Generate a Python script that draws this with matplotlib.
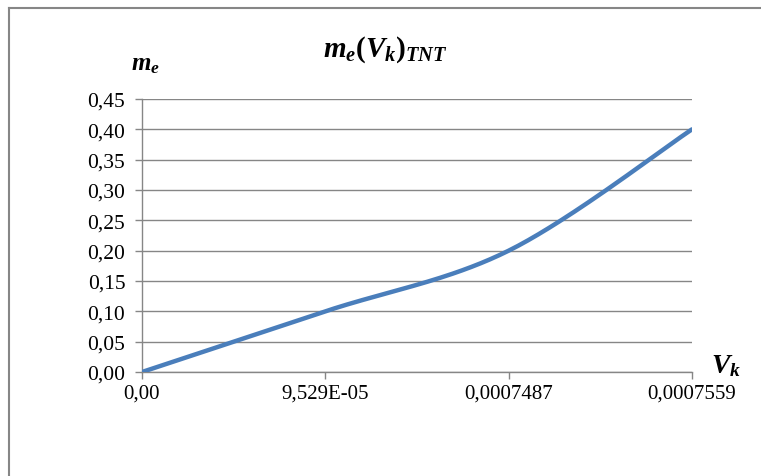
import numpy as np
import matplotlib.pyplot as plt

# chart data (category axis, Excel style)
categories = ["0,00", "9,529E-05", "0,0007487", "0,0007559"]
m_e = [0.00, 0.10, 0.20, 0.40]
y_ticks = [0.00, 0.05, 0.10, 0.15, 0.20, 0.25, 0.30, 0.35, 0.40, 0.45]


def excel_smooth(x, y, n=60):
    # cubic bezier through points, like Excel's "smoothed line"
    x = np.asarray(x, float)
    y = np.asarray(y, float)
    px, py = [], []
    for i in range(len(x) - 1):
        x0, y0 = (x[i - 1], y[i - 1]) if i > 0 else (x[i], y[i])
        x3, y3 = (x[i + 2], y[i + 2]) if i + 2 < len(x) else (x[i + 1], y[i + 1])
        c1x = x[i] + (x[i + 1] - x0) / 6
        c1y = y[i] + (y[i + 1] - y0) / 6
        c2x = x[i + 1] - (x3 - x[i]) / 6
        c2y = y[i + 1] - (y3 - y[i]) / 6
        t = np.linspace(0, 1, n)
        a, b, c, d = (1 - t) ** 3, 3 * (1 - t) ** 2 * t, 3 * (1 - t) * t ** 2, t ** 3
        px.extend(a * x[i] + b * c1x + c * c2x + d * x[i + 1])
        py.extend(a * y[i] + b * c1y + c * c2y + d * y[i + 1])
    return np.array(px), np.array(py)


plt.rcParams['font.family'] = ['Liberation Serif', 'DejaVu Serif']
plt.rcParams['mathtext.fontset'] = 'custom'
plt.rcParams['mathtext.it'] = 'Liberation Serif:italic:bold'
plt.rcParams['mathtext.rm'] = 'Liberation Serif:bold'
plt.rcParams['mathtext.bf'] = 'Liberation Serif:bold'

fig = plt.figure(figsize=(7.61, 4.77), dpi=100)
ax = fig.add_axes([142 / 761, 1 - 373 / 477, 550 / 761, 273 / 477])

pos = np.arange(len(categories))
sx, sy = excel_smooth(pos, m_e)
ax.plot(sx, sy, color='#4A7EBB', lw=3.2, solid_capstyle='round', zorder=3)

ax.set_xlim(0, len(categories) - 1)
ax.set_ylim(0, 0.45)
ax.set_yticks(y_ticks)
ax.set_yticklabels([f"{v:.2f}".replace('.', ',') for v in y_ticks])
ax.set_xticks(pos)
ax.set_xticklabels(categories)
ax.yaxis.grid(True, color='#868686', lw=1)
ax.set_axisbelow(True)
for s in ['top', 'right']:
    ax.spines[s].set_visible(False)
for s in ['left', 'bottom']:
    ax.spines[s].set_color('#868686')
    ax.spines[s].set_linewidth(1)
ax.tick_params(axis='both', colors='#868686', length=5, width=1, labelcolor='black')
ax.tick_params(axis='y', labelsize=15.5, pad=7)
ax.tick_params(axis='x', labelsize=15, pad=3)

fig.text(385 / 761, 1 - 57 / 477, r"$m_e(V_k)_{TNT}$", ha='center', va='baseline', fontsize=21)
fig.text(131 / 761, 1 - 70 / 477, r"$m_e$", ha='left', va='baseline', fontsize=18)
fig.text(711 / 761, 1 - 373 / 477, r"$V_k$", ha='left', va='baseline', fontsize=20)

# chart area border (left and top visible)
fig.add_artist(plt.Line2D([8.5 / 761, 8.5 / 761], [0, 1 - 8.5 / 477], color='#868686', lw=1.5))
fig.add_artist(plt.Line2D([8.5 / 761, 1], [1 - 8.5 / 477, 1 - 8.5 / 477], color='#868686', lw=1.5))

fig.savefig('out.png', dpi=100)
